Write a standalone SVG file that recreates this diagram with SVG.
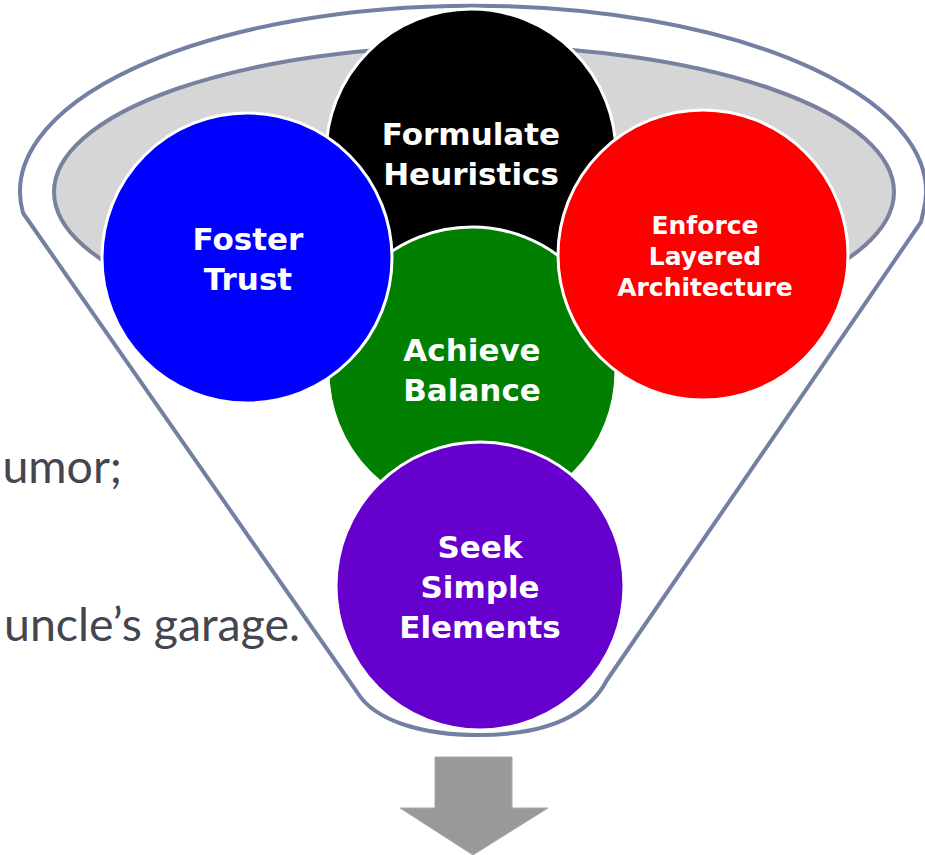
<svg xmlns="http://www.w3.org/2000/svg" width="925" height="855" viewBox="0 0 925 855">
<style>
.rim{fill:#ffffff;stroke:#7480a3;stroke-width:4;stroke-linejoin:round}
.inner{fill:#d6d6d6;stroke:#7a819e;stroke-width:4}
.node{stroke:#ffffff;stroke-width:3}
.lbl{font-family:"DejaVu Sans","Liberation Sans",sans-serif;font-weight:bold;fill:#ffffff;text-anchor:middle}
.big{font-size:31px}
.small{font-size:25px}
.body{font-family:Lato,"Open Sans","Liberation Sans",sans-serif;font-size:46.5px;fill:#45454f;text-anchor:end}
</style>
<rect width="925" height="855" fill="#ffffff"/>
<g id="side-text">
<text class="body" x="122" y="483">umor;</text>
<text class="body" x="300" y="641">uncle’s garage.</text>
</g>
<g id="funnel">
<path class="rim" d="M 23,213 L 30,223 L 357,692 C 375,722 425,735 478,735 C 535,735 585,722 607,680 L 921,222 L 923,213 A 453 186 0 1 0 23,213 Z"/>
<ellipse class="inner" cx="474" cy="192" rx="420" ry="146"/>
</g>
<g id="node-formulate">
<circle class="node" cx="471" cy="154" r="145" fill="#000000"/>
<text class="lbl big" x="471" y="145">Formulate</text>
<text class="lbl big" x="471" y="185">Heuristics</text>
</g>
<g id="node-achieve">
<circle class="node" cx="472" cy="371" r="144" fill="#007f00"/>
<text class="lbl big" x="472" y="361">Achieve</text>
<text class="lbl big" x="472" y="401">Balance</text>
</g>
<g id="node-foster">
<circle class="node" cx="247" cy="258" r="145" fill="#0000ff"/>
<text class="lbl big" x="248" y="250">Foster</text>
<text class="lbl big" x="248" y="290">Trust</text>
</g>
<g id="node-enforce">
<circle class="node" cx="703" cy="255" r="145" fill="#ff0000"/>
<text class="lbl small" x="705" y="234">Enforce</text>
<text class="lbl small" x="705" y="265">Layered</text>
<text class="lbl small" x="705" y="296">Architecture</text>
</g>
<g id="node-seek">
<circle class="node" cx="480" cy="586" r="144" fill="#6600cc"/>
<text class="lbl big" x="480" y="558">Seek</text>
<text class="lbl big" x="480" y="598">Simple</text>
<text class="lbl big" x="480" y="638">Elements</text>
</g>
<g id="connectors">
<path d="M 435,757 L 512,757 L 512,808 L 548,808 L 473,855 L 400,808 L 435,808 Z" fill="#999999" stroke="#a8a8a8" stroke-width="1"/>
</g>
</svg>
